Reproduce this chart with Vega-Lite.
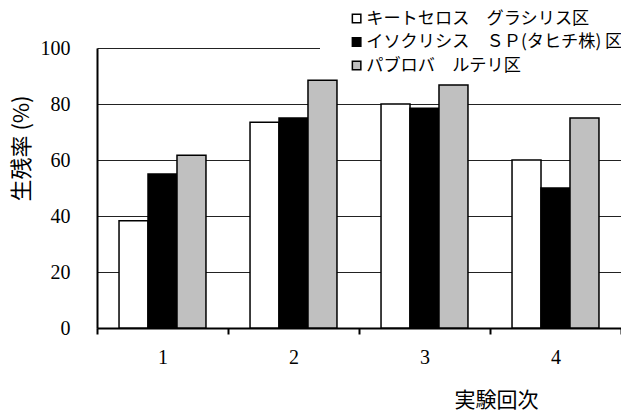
{
  "$schema": "https://vega.github.io/schema/vega-lite/v6.json",
  "width": 524,
  "height": 280,
  "autosize": {"type": "none"},
  "padding": {"left": 97, "top": 48, "right": 0, "bottom": 84},
  "background": "white",
  "data": {
    "values": [
      {"run": "1", "series": "キートセロス　グラシリス区", "rate": 38.3},
      {"run": "1", "series": "イソクリシス　ＳＰ(タヒチ株) 区", "rate": 55},
      {"run": "1", "series": "パブロバ　ルテリ区", "rate": 61.7},
      {"run": "2", "series": "キートセロス　グラシリス区", "rate": 73.5},
      {"run": "2", "series": "イソクリシス　ＳＰ(タヒチ株) 区", "rate": 75},
      {"run": "2", "series": "パブロバ　ルテリ区", "rate": 88.5},
      {"run": "3", "series": "キートセロス　グラシリス区", "rate": 80},
      {"run": "3", "series": "イソクリシス　ＳＰ(タヒチ株) 区", "rate": 78.5},
      {"run": "3", "series": "パブロバ　ルテリ区", "rate": 86.8},
      {"run": "4", "series": "キートセロス　グラシリス区", "rate": 60},
      {"run": "4", "series": "イソクリシス　ＳＰ(タヒチ株) 区", "rate": 50},
      {"run": "4", "series": "パブロバ　ルテリ区", "rate": 75}
    ]
  },
  "mark": {"type": "bar", "stroke": "black", "strokeWidth": 1.5},
  "encoding": {
    "x": {
      "field": "run",
      "type": "nominal",
      "scale": {"paddingInner": 0, "paddingOuter": 0},
      "axis": {
        "title": "実験回次",
        "titleFont": "Noto Sans CJK JP",
        "titleFontSize": 21,
        "titleFontWeight": "normal",
        "titleColor": "black",
        "titleX": 399,
        "titleY": 72,
        "titleAlign": "center",
        "titleBaseline": "middle",
        "labelAngle": 0,
        "labelFont": "Liberation Serif",
        "labelFontSize": 20,
        "labelColor": "black",
        "labelPadding": 13,
        "tickBand": "extent",
        "tickColor": "black",
        "tickWidth": 2,
        "tickSize": 6,
        "domainColor": "black",
        "domainWidth": 2,
        "grid": false
      }
    },
    "xOffset": {
      "field": "series",
      "type": "nominal",
      "sort": ["キートセロス　グラシリス区", "イソクリシス　ＳＰ(タヒチ株) 区", "パブロバ　ルテリ区"],
      "scale": {"paddingInner": 0, "paddingOuter": 0.76}
    },
    "y": {
      "field": "rate",
      "type": "quantitative",
      "scale": {"domain": [0, 100], "nice": false},
      "axis": {
        "title": "生残率 (%)",
        "titleFont": "Noto Sans CJK JP",
        "titleFontSize": 22,
        "titleFontWeight": "normal",
        "titleColor": "black",
        "titleX": -76,
        "titleY": 100,
        "titleAlign": "center",
        "titleBaseline": "middle",
        "values": [0, 20, 40, 60, 80, 100],
        "labelFont": "Liberation Serif",
        "labelFontSize": 20,
        "labelColor": "black",
        "labelPadding": 27,
        "ticks": false,
        "domainColor": "black",
        "domainWidth": 2,
        "grid": true,
        "gridColor": "#222222",
        "gridWidth": 1
      }
    },
    "color": {
      "field": "series",
      "type": "nominal",
      "sort": ["キートセロス　グラシリス区", "イソクリシス　ＳＰ(タヒチ株) 区", "パブロバ　ルテリ区"],
      "scale": {"range": ["#ffffff", "#000000", "#c0c0c0"]},
      "legend": {
        "title": null,
        "orient": "none",
        "legendX": 223,
        "legendY": -40,
        "padding": 2,
        "fillColor": "white",
        "symbolType": "square",
        "symbolSize": 72,
        "symbolOffset": 26,
        "symbolStrokeColor": "black",
        "symbolStrokeWidth": 1.5,
        "symbolOpacity": 1,
        "labelFont": "Noto Sans CJK JP",
        "labelFontSize": 17.2,
        "labelColor": "black",
        "labelOffset": 1,
        "labelLimit": 400,
        "rowPadding": 5.5
      }
    }
  },
  "config": {
    "view": {"stroke": null}
  }
}
